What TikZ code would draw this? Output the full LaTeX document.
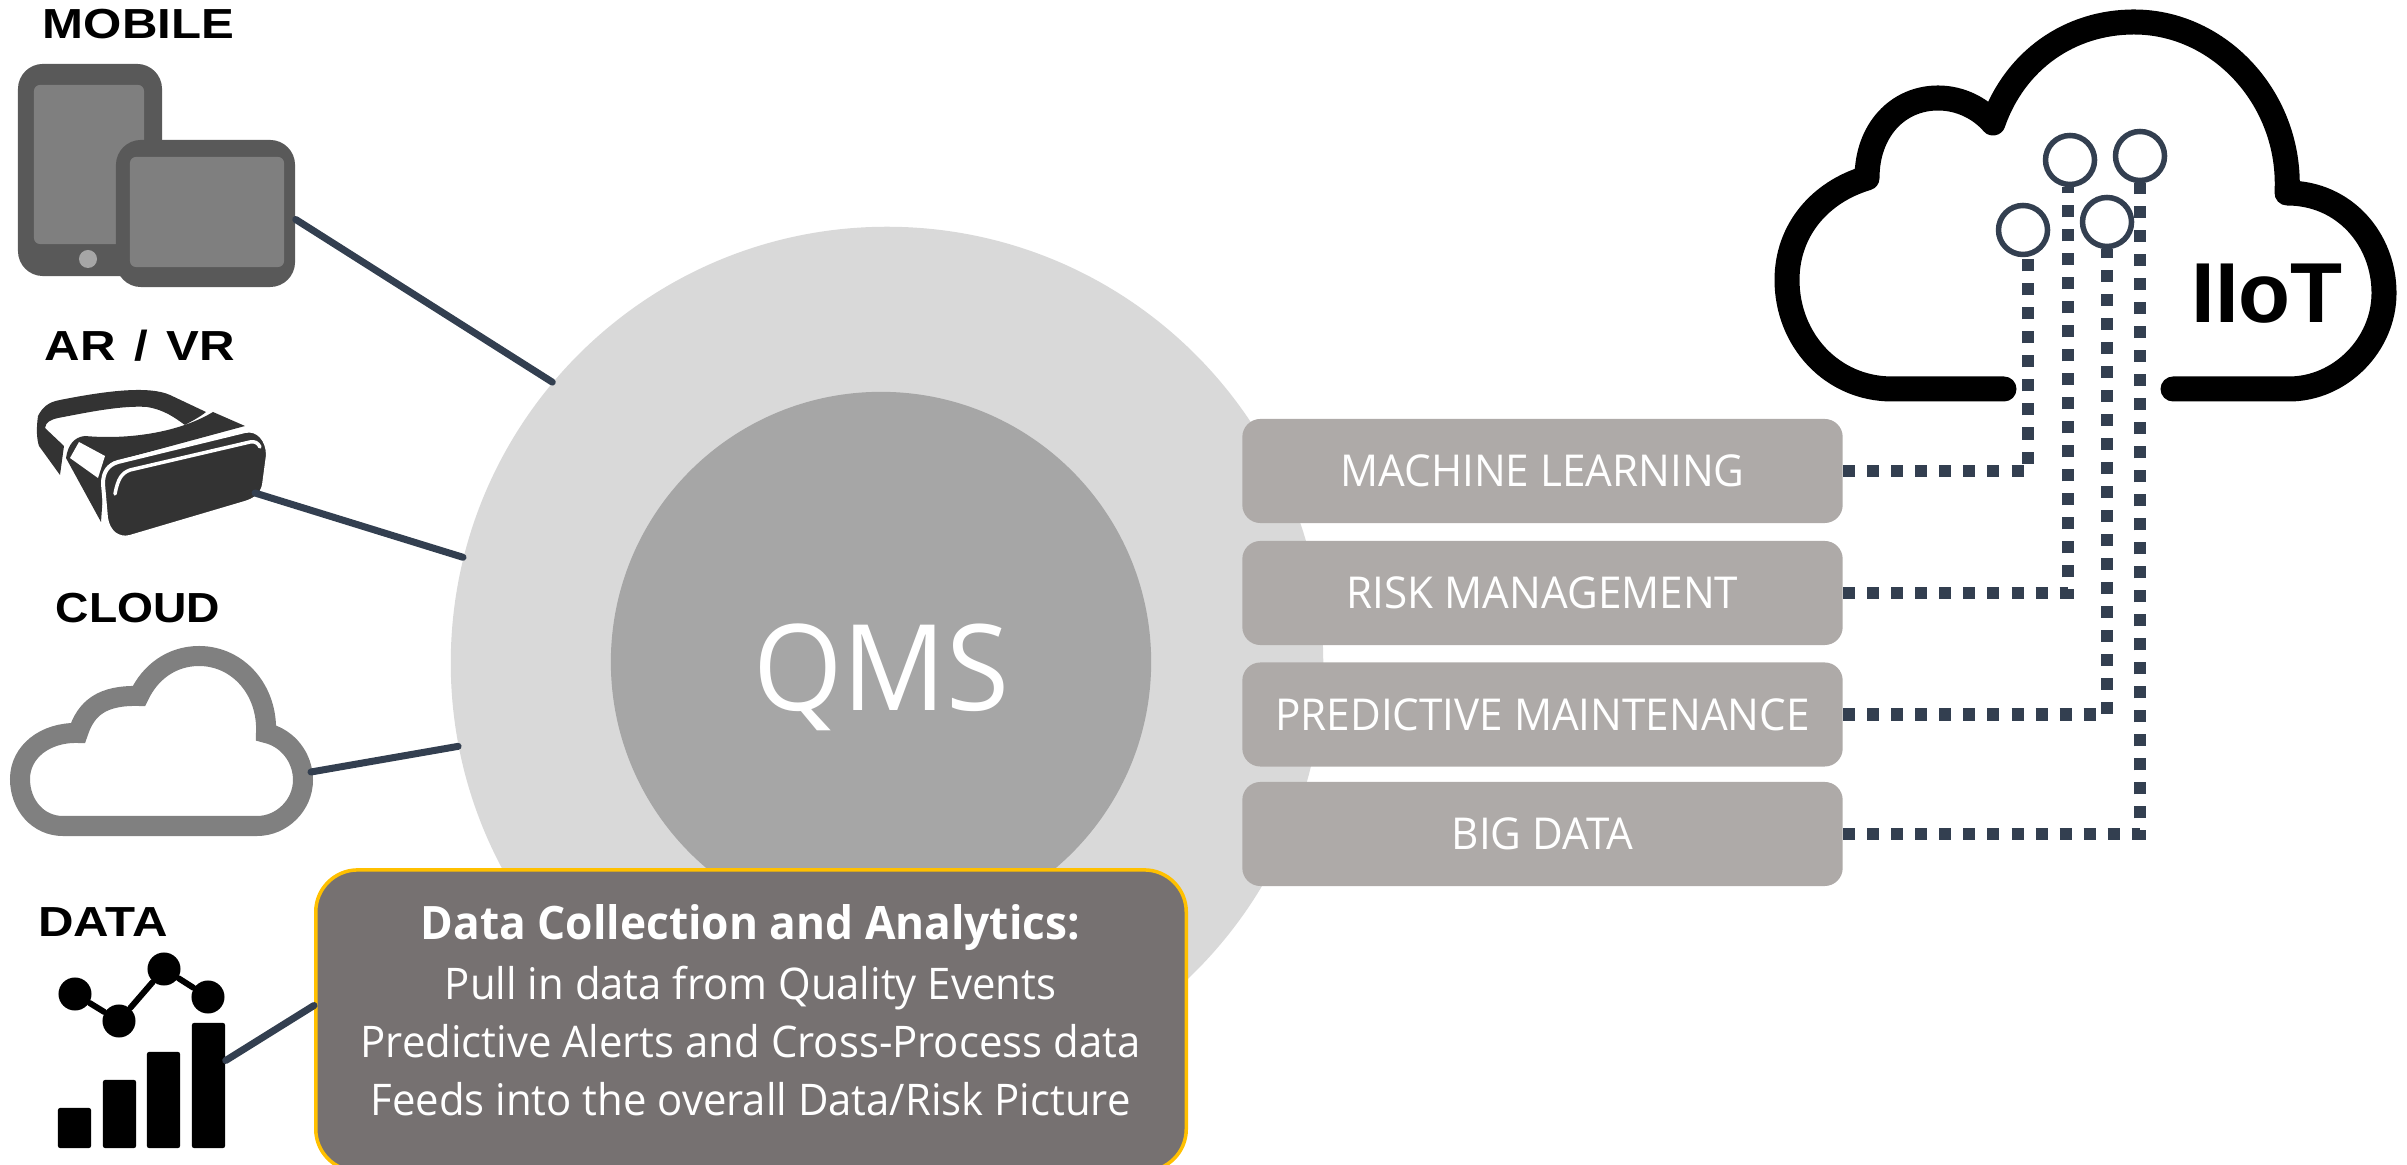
\documentclass[tikz,border=0pt]{standalone}
\usepackage{fontspec}
\usepackage{tikz}
\usetikzlibrary{positioning}
\setmainfont{Open Sans}
\newfontfamily\labelfont[FakeStretch=0.96]{Open Sans}
\newfontfamily\titlefont[FakeStretch=1.17]{Liberation Sans}
\newfontfamily\iiotfont[FakeStretch=1.0]{Liberation Sans}
\definecolor{linkblue}{HTML}{333F50}
\definecolor{tabletdark}{HTML}{595959}
\definecolor{tabletscreen}{HTML}{7F7F7F}
\definecolor{boxgrey}{HTML}{AEAAA8}
\definecolor{calloutgrey}{HTML}{767171}
\definecolor{calloutedge}{HTML}{FFC000}
\definecolor{vrdark}{HTML}{333333}

\begin{document}
\begin{tikzpicture}[line cap=round,line join=round,x=0.01cm,y=-0.01cm,
  link/.style={draw=linkblue,line width=0.07cm},
  dotlink/.style={draw=linkblue,line width=0.125cm,line cap=butt,line join=miter,dash pattern=on 0.12cm off 0.12cm},
  iiotport/.style={circle,draw=linkblue,fill=white,line width=0.055cm,minimum size=0.49cm,inner sep=0pt},
  areabox/.style={rectangle,rounded corners=0.18cm,fill=boxgrey,text=white,minimum width=6cm,minimum height=1.04cm,font=\labelfont\fontsize{12.5}{14}\selectfont},
  icontitle/.style={font=\titlefont\bfseries\fontsize{11.95}{14}\selectfont,inner sep=0pt},
  tabletbody/.style={rectangle,rounded corners=0.25cm,fill=tabletdark,inner sep=0pt},
  tabletglass/.style={rectangle,rounded corners=0.06cm,fill=tabletscreen,inner sep=0pt},
  databar/.style={rectangle,rounded corners=0.02cm,fill=black,inner sep=0pt,minimum width=0.33cm},
  datadot/.style={circle,fill=black,minimum size=0.33cm,inner sep=0pt}]
\useasboundingbox (0,0) rectangle (2407,1165);
\clip (0,0) rectangle (2407,1165);
\draw (887,663) node[circle,fill=black!15,minimum size=8.72cm,inner sep=0pt] (outer) {};
\draw (881,662) node[circle,fill=black!35,minimum size=5.4cm,inner sep=0pt] (inner) {};
\draw (881,677) node[text=white,font=\labelfont\fontsize{34}{38}\selectfont] (qms) {QMS};
\draw (138.5,24.5) node[icontitle] (mobiletitle) {MOBILE};
\draw (140,345.5) node[icontitle] (arvrtitle) {AR\hspace{0.05cm} / \hspace{0.05cm}VR};
\draw (138,608) node[icontitle,xscale=0.94,transform shape] (cloudtitle) {CLOUD};
\draw (103,922.5) node[icontitle] (datatitle) {DATA};
\draw (90,170) node[tabletbody,minimum width=1.44cm,minimum height=2.12cm] (tabletA) {};
\draw (89,164.5) node[tabletglass,minimum width=1.1cm,minimum height=1.59cm] (screenA) {};
\draw (88,259) node[circle,fill=black!35,minimum size=0.18cm,inner sep=0pt] (homebutton) {};
\draw (205.5,213.5) node[tabletbody,minimum width=1.79cm,minimum height=1.47cm] (tabletB) {};
\draw (207,212) node[tabletglass,minimum width=1.54cm,minimum height=1.1cm] (screenB) {};
\fill[vrdark] (38,416) .. controls (36,430) and (37,440) .. (39,446) -- (60,475) -- (64,446) -- (45,428) .. controls (46,422) and (50,420) .. (58,418) .. controls (80,414) and (120,405) .. (147,407) .. controls (165,410) and (175,418) .. (185,425) .. controls (192,421) and (200,417) .. (206,412) -- (170,395) .. controls (150,386) and (110,390) .. (60,400) .. controls (48,402) and (42,408) .. (38,416) -- cycle;
\fill[vrdark] (66,458) .. controls (68,445) and (74,437) .. (85,436) .. controls (130,440) and (180,432) .. (213,412) -- (245,426) -- (112,462) -- (104,480) -- (101,522) -- cycle;
\fill[white] (70,458) -- (79,442) -- (105,456) -- (98,478) -- cycle;
\draw[fill=vrdark,draw=white,line width=0.04cm] (118,462) -- (245,431) .. controls (258,428) and (268,440) .. (268,455) -- (264,485) .. controls (262,495) and (255,500) .. (245,503) -- (130,537) .. controls (118,540) and (108,532) .. (106,518) -- (103,484) .. controls (103,472) and (108,465) .. (118,462) -- cycle;
\draw[white,line width=0.035cm] (115,494) .. controls (118,478) and (122,473) .. (130,470) -- (250,442) .. controls (255,441) and (258,443) .. (260,447);
\coordinate (vrside) at (255,493);
\draw[draw=black!50,line width=0.2cm,line join=miter] (63,826) .. controls (38,826) and (20,805) .. (20,779) .. controls (20,752) and (45,732) .. (78,733) .. controls (86,708) and (102,695) .. (139,696) .. controls (150,672) and (172,656) .. (199,656) .. controls (238,656) and (268,690) .. (266,733) .. controls (288,738) and (303,758) .. (303,780) .. controls (303,805) and (282,826) .. (257,826) -- cycle;
\coordinate (cloudside) at (311,772);
\draw (74.5,1128) node[databar,minimum height=0.40cm] (bar1) {};
\draw (119.5,1114) node[databar,minimum height=0.68cm] (bar2) {};
\draw (163.5,1100) node[databar,minimum height=0.96cm] (bar3) {};
\draw (208.5,1085.5) node[databar,minimum height=1.25cm] (bar4) {};
\draw (75,994) node[datadot] (dot1) {};
\draw (119,1021) node[datadot] (dot2) {};
\draw (164,969) node[datadot] (dot3) {};
\draw (208,997) node[datadot] (dot4) {};
\draw[line width=0.06cm] (dot1) -- (dot2) -- (dot3) -- (dot4);
\draw[link] ([yshift=-0.06cm]tabletB.east) -- (outer.140);
\draw[link] (vrside) -- (outer.166.3);
\draw[link] (cloudside) -- (outer.191.2);
\draw (1542.5,471) node[areabox] (machine) {MACHINE LEARNING};
\draw (1542.5,593) node[areabox] (risk) {RISK MANAGEMENT};
\draw (1542.5,714.5) node[areabox] (predictive) {PREDICTIVE MAINTENANCE};
\draw (1542.5,834) node[areabox] (bigdata) {BIG DATA};
\draw (751,1020.5) node[rectangle,rounded corners=0.42cm,fill=calloutgrey,draw=calloutedge,line width=0.035cm,minimum width=8.70cm,minimum height=3.01cm] (callout) {};
\draw (750.5,1010) node[text=white,align=center,font=\labelfont\fontsize{12.4}{16.5}\selectfont] (callouttext) {{\bfseries\fontsize{13.1}{16.5}\selectfont Data Collection and Analytics:}\\[0.02cm]Pull in data from Quality Events\\Predictive Alerts and Cross-Process data\\Feeds into the overall Data/Risk Picture};
\draw[link] ([yshift=0.25cm]bar4.east) -- ([yshift=0.15cm]callout.west);
\draw[line width=0.25cm] (2004,389) -- (1892,389) .. controls (1832,389) and (1787,340) .. (1787,280) .. controls (1787,230) and (1820,192) .. (1867,178) .. controls (1867,130) and (1898,98) .. (1938,98) .. controls (1960,98) and (1980,108) .. (1993,123) .. controls (2015,60) and (2070,22) .. (2134,22) .. controls (2220,22) and (2292,100) .. (2287,193) .. controls (2345,193) and (2384,240) .. (2384,293) .. controls (2384,345) and (2340,389) .. (2289,389) -- (2173,389);
\draw (2023,230) node[iiotport] (portA) {};
\draw (2070,160) node[iiotport] (portB) {};
\draw (2107,222) node[iiotport] (portC) {};
\draw (2140,156) node[iiotport] (portD) {};
\draw[dotlink] (machine.east) -| ([xshift=0.05cm]portA.south);
\draw[dotlink] (risk.east) -| ([xshift=-0.02cm]portB.south);
\draw[dotlink] (predictive.east) -| (portC.south);
\draw[dotlink] (bigdata.east) -| (portD.south);
\draw (2267,294) node[font=\iiotfont\bfseries\fontsize{24.2}{28}\selectfont,inner sep=0pt] (iiot) {IIoT};
\end{tikzpicture}
\end{document}
